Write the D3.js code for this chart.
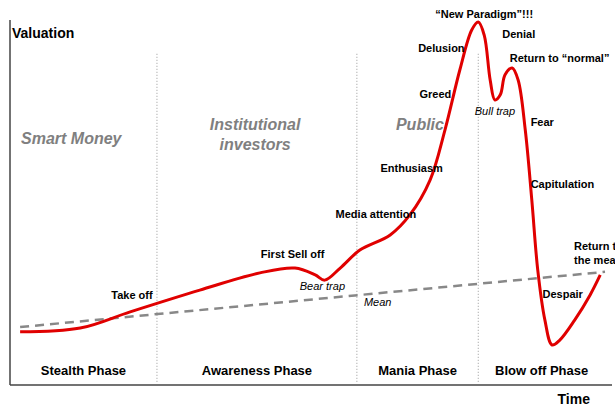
<!DOCTYPE html><html><head><meta charset="utf-8"><script src="https://cdn.jsdelivr.net/npm/d3@7"></script>
<style>body{margin:0;background:#fff}text{font-family:"Liberation Sans",Arial,sans-serif}</style></head><body><svg width="615" height="409"></svg><script>
const time=[1.7,11.8,20.2,31.9,42,47.9,51.3,52.9,55.5,58.8,63.9,67.2,70.6,73.1,75.6,77.6,78.7,79.7,80.7,81.5,82.4,83.2,84.4,85.4,86.6,87.7,88.7,89.9,91.1,92.4,94.9,97.5,99.2];
const valuation=[15.4,16.5,21.2,27.5,32.5,33.9,31.9,30.4,33.9,39.1,43.5,49.3,59.4,73.9,91.3,102.9,105.2,101.4,88.4,82.6,84.1,89.9,91.9,88.4,73.9,53.6,33.3,18.8,11.6,13,18.8,26.1,31.9];
const meanLine=[[1.7,16.8],[100,32.8]];
const phases=["Stealth Phase","Awareness Phase","Mania Phase","Blow off Phase"];
const phaseBounds=[0,24.7,58.3,78.7,100];
const groups=[["Smart Money",10.3,70],["Institutional investors",41.2,74],["Public",68.9,74]];
const notes=[["Take off",20.5,25,"middle",false],["First Sell off",47.5,36.8,"middle",false],["Bear trap",52.5,27.5,"middle",true],["Mean",61.8,22.9,"middle",true],["Media attention",61.5,48.4,"middle",false],["Enthusiasm",67.5,61.7,"middle",false],["Greed",71.5,83.2,"middle",false],["Delusion",72.5,96.5,"middle",false],["\u201cNew Paradigm\u201d!!!",79.7,106.4,"middle",false],["Denial",85.5,100.6,"middle",false],["Return to \u201cnormal\u201d",84,93.6,"start",false],["Bull trap",81.5,78.3,"middle",true],["Fear",87.5,75,"start",false],["Capitulation",87.5,57,"start",false],["Despair",89.5,25.2,"start",false]];
const svg=d3.select("svg");
const x=d3.scaleLinear().domain([0,100]).range([10,605]);
const y=d3.scaleLinear().domain([0,100]).range([385,40]);
svg.append("line").attr("x1",10).attr("x2",10).attr("y1",385).attr("y2",20).attr("stroke","#444").attr("stroke-width",1.5);
svg.append("line").attr("x1",10).attr("x2",612).attr("y1",385).attr("y2",385).attr("stroke","#444").attr("stroke-width",1.5);
phaseBounds.slice(1,-1).forEach(b=>svg.append("line").attr("x1",x(b)).attr("x2",x(b)).attr("y1",y(96)).attr("y2",383).attr("stroke","#999").attr("stroke-dasharray","1,2"));
phases.forEach((p,i)=>svg.append("text").attr("x",x((phaseBounds[i]+phaseBounds[i+1])/2)).attr("y",375).attr("text-anchor","middle").attr("font-size",13).attr("font-weight","bold").text(p));
svg.append("text").attr("x",12).attr("y",38).attr("font-size",14).attr("font-weight","bold").text("Valuation");
svg.append("text").attr("x",590).attr("y",404).attr("text-anchor","end").attr("font-size",14).attr("font-weight","bold").text("Time");
groups.forEach(g=>{const t=svg.append("text").attr("x",x(g[1])).attr("y",y(g[2])).attr("text-anchor","middle").attr("font-size",16).attr("font-weight","bold").attr("font-style","italic").attr("fill","#808080");
 const w=g[0]==="Institutional investors"?["Institutional","investors"]:[g[0]];w.forEach((s,i)=>t.append("tspan").attr("x",x(g[1])).attr("dy",i?20:0).text(s));});
svg.append("path").attr("d",d3.line().x(d=>x(d[0])).y(d=>y(d[1]))(meanLine)).attr("stroke","#888").attr("stroke-width",2.5).attr("stroke-dasharray","9,6").attr("fill","none");
svg.append("path").datum(time.map((t,i)=>[t,valuation[i]])).attr("d",d3.line().x(d=>x(d[0])).y(d=>y(d[1])).curve(d3.curveCatmullRom)).attr("stroke","#e00000").attr("stroke-width",3).attr("fill","none");
notes.forEach(n=>svg.append("text").attr("x",x(n[1])).attr("y",y(n[2])).attr("text-anchor",n[3]).attr("font-size",11).attr("font-weight",n[4]?"normal":"bold").attr("font-style",n[4]?"italic":"normal").text(n[0]));
const r=svg.append("text").attr("font-size",11).attr("font-weight","bold").attr("text-anchor","start");
["Return to","the mean"].forEach((s,i)=>r.append("tspan").attr("x",x(94.8)).attr("y",y(39)+i*14).text(s));
</script></body></html>
